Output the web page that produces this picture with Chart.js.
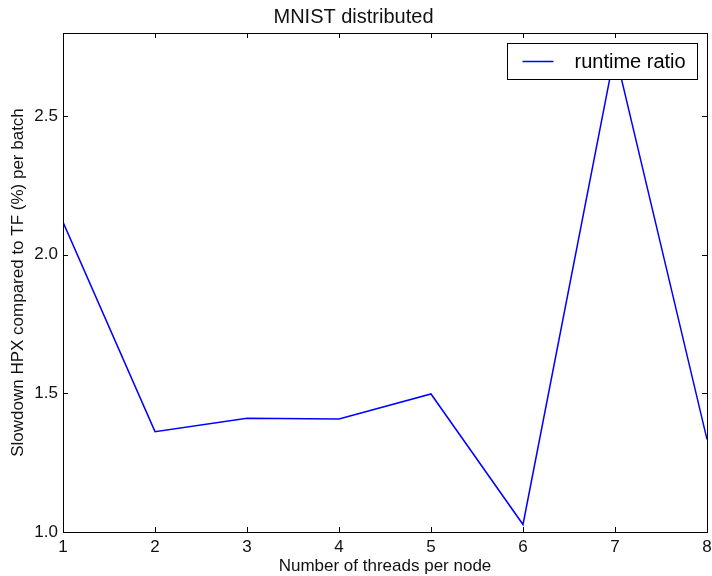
<!DOCTYPE html>
<html>
<head>
<meta charset="utf-8">
<script src="https://cdn.jsdelivr.net/npm/chart.js@4.4.0/dist/chart.umd.min.js"></script>
<style>
  html, body { margin: 0; padding: 0; background: #fff; }
  #wrap { width: 712px; height: 576px; }
</style>
</head>
<body>
<div id="wrap"><canvas id="plot-canvas" width="712" height="576"></canvas></div>
<script>
// values
const threads = [1, 2, 3, 4, 5, 6, 7, 8];
const runtimeRatio = [2.118, 1.362, 1.410, 1.408, 1.498, 1.027, 2.732, 1.334];
const yTicks = [1.0, 1.5, 2.0, 2.5];
const seriesLabel = "runtime ratio";

const FONT = "'Liberation Sans', Arial, sans-serif";

// matplotlib-style frame with inward ticks on all four sides
const framePlugin = {
    id: 'frame',
    afterDatasetsDraw(chart) {
        const {ctx, chartArea: a, scales} = chart;
        const len = 5;
        ctx.save();
        ctx.strokeStyle = '#000';
        ctx.lineWidth = 1;
        ctx.beginPath();
        scales.x.ticks.forEach(t => {
            const px = Math.round(scales.x.getPixelForValue(t.value)) + 0.5;
            ctx.moveTo(px, a.bottom); ctx.lineTo(px, a.bottom - len);
            ctx.moveTo(px, a.top); ctx.lineTo(px, a.top + len);
        });
        scales.y.ticks.forEach(t => {
            const py = Math.round(scales.y.getPixelForValue(t.value)) + 0.5;
            ctx.moveTo(a.left, py); ctx.lineTo(a.left + len, py);
            ctx.moveTo(a.right, py); ctx.lineTo(a.right - len, py);
        });
        ctx.stroke();
        ctx.strokeRect(Math.round(a.left) + 0.5, Math.round(a.top) + 0.5,
            Math.round(a.right - a.left), Math.round(a.bottom - a.top));
        ctx.restore();
    }
};

// legend box inside the upper right corner
const boxLegend = {
    id: 'boxLegend',
    afterDraw(chart) {
        const {ctx, chartArea: a} = chart;
        const ds = chart.data.datasets[0];
        const w = 190, h = 36;
        const x = Math.round(a.right - 10 - w) + 0.5;
        const y = Math.round(a.top + 10) + 0.5;
        ctx.save();
        ctx.fillStyle = '#fff';
        ctx.strokeStyle = '#000';
        ctx.lineWidth = 1;
        ctx.fillRect(x, y, w, h);
        ctx.strokeRect(x, y, w, h);
        ctx.strokeStyle = ds.borderColor;
        ctx.lineWidth = ds.borderWidth;
        ctx.beginPath();
        ctx.moveTo(x + 15, y + h / 2);
        ctx.lineTo(x + 46, y + h / 2);
        ctx.stroke();
        ctx.fillStyle = '#000';
        ctx.font = "20px " + FONT;
        ctx.textBaseline = 'middle';
        ctx.fillText(ds.label, x + 67, y + h / 2 + 1);
        ctx.restore();
    }
};

new Chart("plot-canvas", {
    type: 'line',
    data: {
        datasets: [{
            label: seriesLabel,
            data: threads.map((t, i) => ({x: t, y: runtimeRatio[i]})),
            borderColor: '#0000ff',
            borderWidth: 1.5,
            pointRadius: 0,
            tension: 0,
            fill: false,
        }],
    },
    options: {
        responsive: false,
        animation: false,
        layout: {padding: {left: 0, right: 5, top: 0, bottom: 0}},
        scales: {
            x: {
                type: 'linear',
                min: 1,
                max: 8,
                afterFit: s => { s.height = 44; s.paddingLeft = 0; s.paddingRight = 0; },
                grid: {display: false, drawTicks: false},
                border: {display: false},
                ticks: {
                    stepSize: 1,
                    padding: 5,
                    color: '#111',
                    font: {family: FONT, size: 17},
                    maxRotation: 0,
                },
                title: {
                    display: true,
                    text: 'Number of threads per node',
                    color: '#111',
                    font: {family: FONT, size: 17},
                    padding: {top: 0, bottom: -1},
                },
            },
            y: {
                min: 1.0,
                max: 2.8,
                afterFit: s => { s.width = 63; s.paddingTop = 0; s.paddingBottom = 0; },
                afterBuildTicks: s => { s.ticks = yTicks.map(v => ({value: v})); },
                grid: {display: false, drawTicks: false},
                border: {display: false},
                ticks: {
                    padding: 5,
                    color: '#111',
                    font: {family: FONT, size: 17},
                    callback: v => Number(v).toFixed(1),
                },
                title: {
                    display: true,
                    text: 'Slowdown HPX compared to TF (%) per batch',
                    color: '#111',
                    font: {family: FONT, size: 17},
                    padding: {top: 8, bottom: 0},
                },
            },
        },
        plugins: {
            legend: {display: false},
            tooltip: {enabled: false},
            title: {
                display: true,
                text: 'MNIST distributed',
                color: '#111',
                font: {family: FONT, size: 20, weight: 'normal'},
                padding: {top: 5, bottom: 4},
            },
        },
    },
    plugins: [framePlugin, boxLegend],
});
</script>
</body>
</html>
